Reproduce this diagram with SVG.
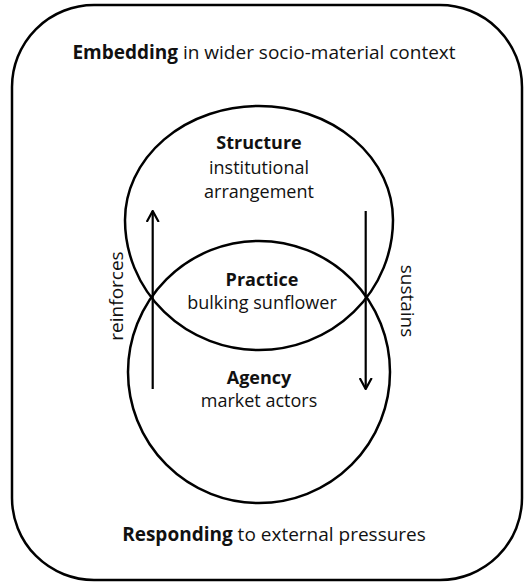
<svg xmlns="http://www.w3.org/2000/svg" width="529" height="584" viewBox="0 0 529 584">
  <style>
    .line { fill: none; stroke: #000; stroke-width: 2.5; }
    .arrow { fill: none; stroke: #000; stroke-width: 2.2; }
    text { font-family: "Open Sans", "Liberation Sans", sans-serif; font-size: 18px; fill: #111; text-anchor: middle; }
    .b { font-weight: bold; }
    .side { font-size: 19px; }
    .outer { font-size: 19px; }
  </style>
  <defs>
    <marker id="head" viewBox="0 0 12 14" refX="11" refY="7" markerWidth="12" markerHeight="14" markerUnits="userSpaceOnUse" orient="auto">
      <path d="M0,1 L11,7 L0,13" fill="none" stroke="#000" stroke-width="2.2"/>
    </marker>
  </defs>
  <rect width="529" height="584" fill="#fff"/>

  <!-- outer frame: the wider context -->
  <g id="context">
    <rect class="line" x="12" y="5" width="510" height="575" rx="82" ry="82"/>
    <text class="outer" x="264" y="59"><tspan class="b">Embedding</tspan> in wider socio-material context</text>
    <text class="outer" x="274" y="541"><tspan class="b">Responding</tspan> to external pressures</text>
  </g>

  <!-- upper shape: two half-ellipses sharing the horizontal axis -->
  <g id="structure">
    <path class="line" d="M125,220 A134,114 0 0 1 393,220 A134,130 0 0 1 125,220 Z"/>
    <text class="b" x="259" y="149">Structure</text>
    <text x="259" y="174">institutional</text>
    <text x="259" y="198">arrangement</text>
  </g>

  <!-- lower circle -->
  <g id="agency">
    <circle class="line" cx="259" cy="372" r="131"/>
    <text class="b" x="259" y="384">Agency</text>
    <text x="259" y="407">market actors</text>
  </g>

  <!-- overlap of the two shapes -->
  <g id="practice">
    <text class="b" x="262" y="286">Practice</text>
    <text x="262" y="309">bulking sunflower</text>
  </g>

  <!-- connectors -->
  <g id="connectors">
    <line class="arrow" x1="152.7" y1="389" x2="152.7" y2="211" marker-end="url(#head)"/>
    <line class="arrow" x1="365.7" y1="211" x2="365.7" y2="389" marker-end="url(#head)"/>
    <text class="side" transform="translate(123,296) rotate(-90)">reinforces</text>
    <text class="side" transform="translate(401,301) rotate(90)">sustains</text>
  </g>
</svg>
